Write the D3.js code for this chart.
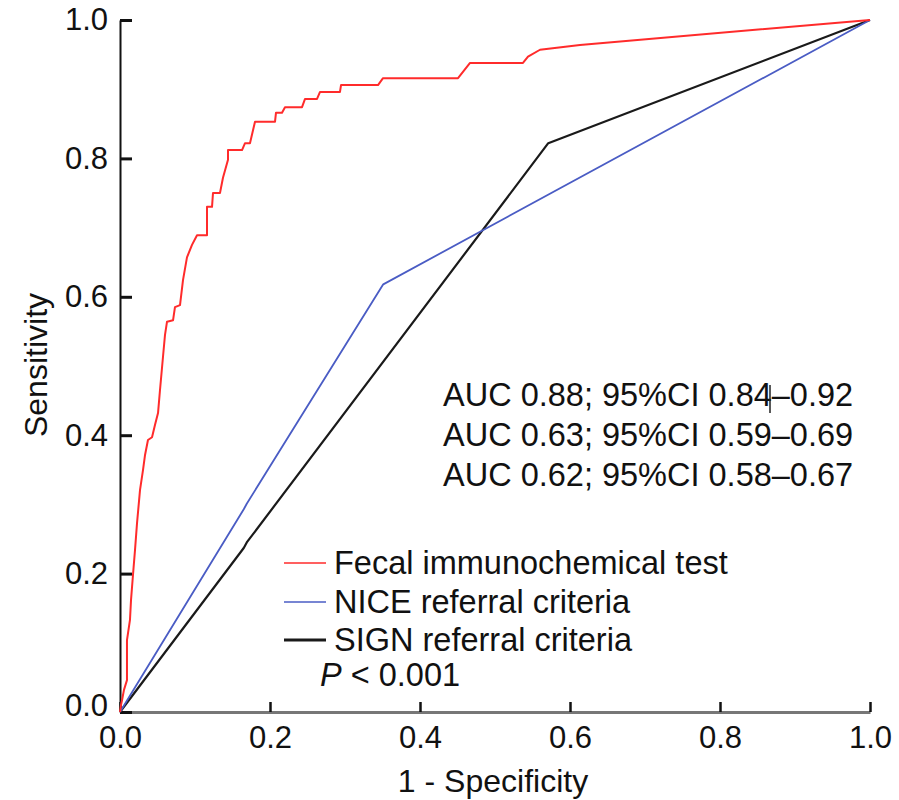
<!DOCTYPE html>
<html>
<head>
<meta charset="utf-8">
<script src="https://cdn.jsdelivr.net/npm/d3@7"></script>
<style>
  html, body { margin: 0; padding: 0; background: #fff; }
  svg { display: block; font-family: "Liberation Sans", Arial, Helvetica, sans-serif; }
</style>
</head>
<body>
<svg id="chart" width="899" height="800"></svg>
<script>
// ---- Data ----
const fitFPR = [0, 0.0013, 0.0027, 0.0053, 0.0093, 0.0093, 0.0133, 0.0147, 0.0173, 0.02, 0.0227, 0.0267, 0.0307, 0.0333, 0.0373, 0.0427, 0.0467, 0.0507, 0.0533, 0.0573, 0.06, 0.0627, 0.0707, 0.0733, 0.08, 0.084, 0.0893, 0.096, 0.1027, 0.116, 0.116, 0.1227, 0.124, 0.1333, 0.1373, 0.144, 0.144, 0.1627, 0.1667, 0.1733, 0.18, 0.2067, 0.208, 0.216, 0.22, 0.2427, 0.2467, 0.2627, 0.2667, 0.2933, 0.2947, 0.344, 0.3507, 0.4507, 0.4667, 0.5373, 0.544, 0.56, 0.6133, 1];
const fitTPR = [0, 0.010, 0.017, 0.032, 0.046, 0.104, 0.133, 0.162, 0.198, 0.234, 0.273, 0.321, 0.350, 0.371, 0.393, 0.397, 0.415, 0.432, 0.465, 0.513, 0.545, 0.564, 0.566, 0.585, 0.588, 0.624, 0.657, 0.675, 0.689, 0.689, 0.730, 0.730, 0.750, 0.750, 0.772, 0.798, 0.812, 0.812, 0.822, 0.822, 0.853, 0.853, 0.866, 0.866, 0.874, 0.874, 0.886, 0.886, 0.896, 0.896, 0.906, 0.906, 0.916, 0.916, 0.938, 0.938, 0.947, 0.957, 0.964, 1];

const niceFPR = [0, 0.165, 0.169, 0.351, 1];
const niceTPR = [0, 0.293, 0.301, 0.618, 1];

const signFPR = [0, 0.165, 0.169, 0.571, 1];
const signTPR = [0, 0.237, 0.245, 0.822, 1];

const seriesNames = ["Fecal immunochemical test", "NICE referral criteria", "SIGN referral criteria"];
const seriesColors = ["#ff2b2b", "#4a5cc4", "#1a1a1a"];
const aucLabels = ["AUC 0.88; 95%CI 0.84\u20130.92", "AUC 0.63; 95%CI 0.59\u20130.69", "AUC 0.62; 95%CI 0.58\u20130.67"];
const tickValues = [0, 0.2, 0.4, 0.6, 0.8, 1.0];
const xTitle = "1 - Specificity";
const yTitle = "Sensitivity";

// ---- Layout ----
const svg = d3.select("#chart");
const x = d3.scaleLinear().domain([0, 1]).range([120, 870]);
const y = d3.scaleLinear().domain([0, 1]).range([712, 20]);
const FS = 31;     // tick labels
const FA = 32.5;   // annotations / legend
const FT = 32;     // axis titles

// X axis
const gx = svg.append("g").attr("transform", `translate(0,${y(0)})`)
  .call(d3.axisBottom(x).tickValues(tickValues).tickFormat(d3.format(".1f"))
    .tickSize(-10).tickSizeOuter(0).tickPadding(14));
gx.select(".domain").attr("stroke", "#777").attr("stroke-width", 3);
gx.selectAll(".tick line").attr("stroke", "#111").attr("stroke-width", 2.5);
gx.selectAll(".tick text").attr("font-size", FS).attr("fill", "#111")
  .attr("font-family", "Liberation Sans, Arial, sans-serif");

// Y axis
const gy = svg.append("g").attr("transform", `translate(${x(0)},0)`)
  .call(d3.axisLeft(y).tickValues(tickValues).tickFormat(d3.format(".1f"))
    .tickSize(-12).tickSizeOuter(0).tickPadding(12));
gy.select(".domain").attr("stroke", "#111").attr("stroke-width", 2);
gy.selectAll(".tick line").attr("stroke", "#111").attr("stroke-width", 3);
gy.selectAll(".tick text").attr("font-size", FS).attr("fill", "#111")
  .attr("font-family", "Liberation Sans, Arial, sans-serif");
gy.select(".tick:first-of-type text").attr("dy", "0.1em");

// Axis titles
svg.append("text").attr("x", 493).attr("y", 792).attr("text-anchor", "middle")
  .attr("font-size", FT).attr("fill", "#111").text(xTitle);
svg.append("text").attr("transform", `translate(47,${365}) rotate(-90)`)
  .attr("text-anchor", "middle").attr("font-size", FT).attr("fill", "#111").text(yTitle);

// Curves
const series = [
  { fx: fitFPR, fy: fitTPR, w: 2 },
  { fx: niceFPR, fy: niceTPR, w: 1.8 },
  { fx: signFPR, fy: signTPR, w: 2.2 }
];
const line = d3.line().x(d => x(d[0])).y(d => y(d[1]));
[2, 1, 0].forEach(i => {
  const s = series[i];
  const pts = s.fx.map((v, k) => [v, s.fy[k]]);
  svg.append("path").datum(pts).attr("d", line)
    .attr("fill", "none").attr("stroke", seriesColors[i])
    .attr("stroke-width", s.w).attr("stroke-linejoin", "round");
});

// AUC annotations
aucLabels.forEach((t, i) => {
  svg.append("text").attr("x", 443).attr("y", 406 + i * 40)
    .attr("font-size", FA).attr("fill", "#111").text(t);
});
// small vertical mark seen in the first annotation line
svg.append("line").attr("x1", 770).attr("x2", 770).attr("y1", 385).attr("y2", 413)
  .attr("stroke", "#222").attr("stroke-width", 1.5);

// Legend
const legY = [563, 602, 640];
seriesNames.forEach((n, i) => {
  svg.append("line").attr("x1", 284).attr("x2", 326).attr("y1", legY[i]).attr("y2", legY[i])
    .attr("stroke", seriesColors[i]).attr("stroke-width", i === 2 ? 3 : 1.5);
  svg.append("text").attr("x", 334).attr("y", legY[i] + 11)
    .attr("font-size", FA).attr("fill", "#111").text(n);
});
const pt = svg.append("text").attr("x", 320).attr("y", 686).attr("font-size", FA).attr("fill", "#111");
pt.append("tspan").attr("font-style", "italic").text("P");
pt.append("tspan").text(" < 0.001");
</script>
</body>
</html>
